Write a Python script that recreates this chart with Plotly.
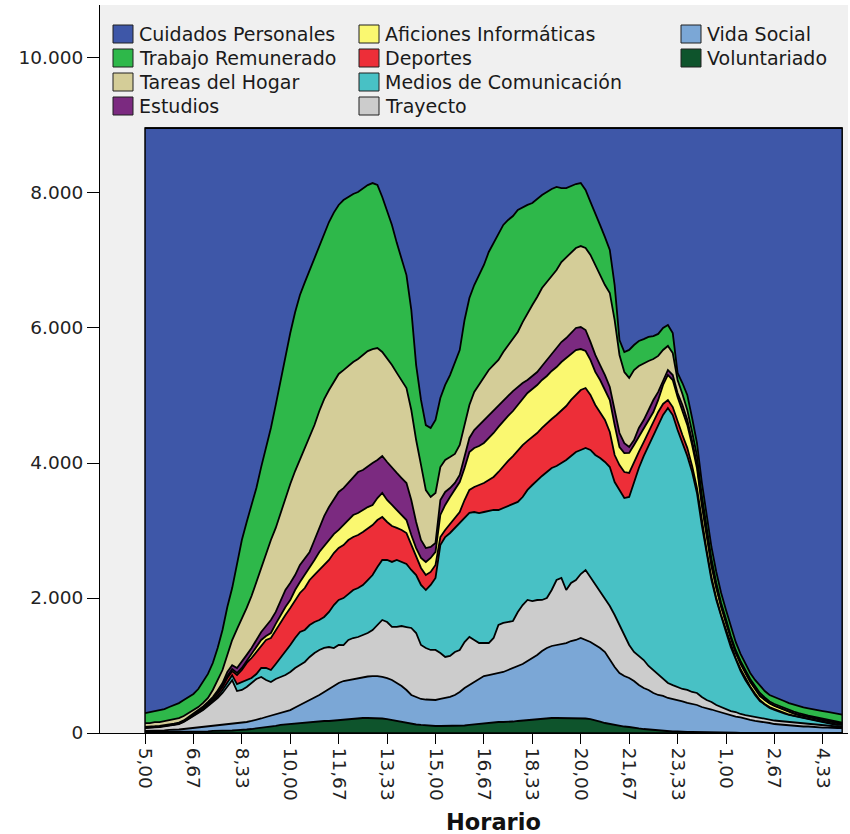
import plotly.graph_objects as go

# 10-minute time slots starting at 5:00 (145 slots, through 5:00 of the next day)
slots = list(range(145))
tick_slots = [0, 10, 20, 30, 40, 50, 60, 70, 80, 90, 100, 110, 120, 130, 140]
tick_labels = ['5,00', '6,67', '8,33', '10,00', '11,67', '13,33', '15,00', '16,67',
               '18,33', '20,00', '21,67', '23,33', '1,00', '2,67', '4,33']

voluntariado = [15,15,15,15,15,15,15,15,15,15, 15,22,22,22,30,30,30,37,37,44,
    44,52,59,67,74,89,96,104,119,126, 133,141,148,156,163,163,170,178,178,185,
    193,200,207,207,215,222,222,222,222,215, 207,193,178,163,148,133,126,119,111,104,
    104,104,104,104,104,104,111,119,126,133, 148,148,156,163,163,163,170,178,185,193,
    200,207,215,222,222,222,222,222,222,222, 222,215,207,193,170,148,133,119,104,96,
    89,74,67,59,52,44,37,30,30,22, 22,15,15,15,15,7,7,7,7,7,
    7,7,7,0,0,0,0,0,0,0, 0,0,0,0,0,0,0,0,0,0, 0,0,0,0,0]

vida_social = [15,15,15,15,22,30,30,37,44,52, 59,59,67,74,74,81,89,89,96,96,
    104,111,119,126,141,148,163,178,185,200, 207,237,267,296,326,356,393,430,474,511,
    548,570,578,593,600,607,615,622,622,615, 607,593,563,533,489,430,407,385,385,385,
    385,400,415,430,459,504,556,593,630,667, 696,711,719,726,741,770,793,815,837,874,
    911,948,1000,1037,1067,1081,1096,1111,1141,1156, 1185,1163,1141,1111,1089,1052,948,859,785,748,
    726,696,644,607,585,548,526,519,489,481, 467,452,430,415,400,378,363,341,319,296,
    274,259,237,230,207,193,178,170,156,148, 133,126,119,111,111,104,96,96,89,89,
    81,81,74,74,74]

trayecto = [44,44,52,59,59,59,74,81,104,141, 178,215,252,304,356,407,474,570,650,481,
    489,519,563,607,615,548,496,519,526,533, 563,585,593,600,637,667,667,652,622,563,
    563,533,593,607,607,622,644,681,756,844, 830,785,830,889,933,993,948,800,763,741,
    741,681,607,607,637,622,681,711,622,533, 489,474,533,711,726,711,696,800,874,904,
    844,815,756,741,830,963,978,785,859,889, 948,1037,963,889,830,800,800,770,711,607,
    489,430,430,415,356,341,296,252,222,207, 193,185,193,178,178,148,119,111,89,81,
    74,59,67,52,59,59,59,52,52,44, 52,52,52,52,44,44,44,37,37,30,
    30,22,22,15,15]

medios = [6,6,6,6,6,6,6,7,7,7, 9,10,12,15,22,30,44,59,74,104,
    119,104,74,74,133,178,178,222,281,341, 400,444,489,474,474,459,444,459,519,637,
    667,696,681,711,726,741,785,815,859,889, 919,963,993,948,933,859,859,889,859,963,
    1067,1600,1778,1822,1837,1896,1852,1837,1896,1926, 1941,1956,1896,1704,1704,1719,1733,1630,1600,1630,
    1719,1778,1837,1867,1807,1689,1704,1926,1882,1896, 1837,1807,1882,1926,1985,2015,2059,1970,2000,2030,
    2193,2519,2785,3022,3259,3467,3704,3911,4074,4000, 3807,3644,3467,3259,2963,2548,2178,1807,1556,1333,
    1141,948,770,637,519,415,326,252,207,178, 156,133,119,104,96,89,81,74,67,59,
    52,44,37,30,30]

deportes = [4,4,4,4,4,4,4,4,6,7, 9,12,15,18,22,37,44,59,59,133,
    178,252,296,326,341,415,474,504,533,548, 548,563,578,622,667,696,741,770,770,770,
    770,785,800,785,785,785,770,741,696,637, 563,533,474,474,459,370,281,252,222,193,
    193,119,104,133,148,148,252,341,370,415, 430,459,489,563,622,667,711,770,770,726,
    711,696,711,726,726,756,785,800,830,844, 889,889,815,741,681,622,519,400,370,385,
    356,296,237,207,207,207,193,163,119,119, 119,119,119,89,74,59,44,44,30,30,
    30,30,30,30,30,22,22,15,15,15, 15,15,7,7,7,7,7,7,7,7,
    7,7,7,7,7]

aficiones = [4,4,4,4,4,4,4,4,4,6, 6,7,9,9,10,15,22,30,30,30,
    30,30,44,59,74,59,74,89,104,119, 119,148,163,193,193,222,267,281,296,281,
    267,296,296,326,326,326,311,296,326,356, 326,311,267,222,193,148,119,148,193,207,
    193,326,370,400,415,444,474,563,578,578, 593,622,652,667,667,667,667,667,696,711,
    711,711,711,696,711,711,711,711,681,667, 607,548,519,489,474,444,474,444,267,281,
    296,252,222,207,178,148,178,281,370,400, 370,370,341,311,296,237,193,163,148,119,
    104,89,74,74,74,67,67,59,59,52, 44,44,44,37,30,22,22,22,22,22,
    22,22,22,22,15]

estudios = [4,4,4,4,4,4,6,6,7,9, 12,15,16,18,19,30,37,59,59,74,
    89,89,104,119,119,148,193,178,222,252, 252,222,252,252,222,296,356,444,489,504,
    563,548,548,548,607,593,607,622,563,548, 563,548,548,548,548,519,385,267,207,163,
    133,222,193,133,104,104,193,207,267,311, 326,341,341,326,311,296,296,267,222,193,
    193,193,207,237,252,281,296,296,311,326, 326,311,267,252,222,222,193,222,207,148,
    89,74,133,119,148,178,119,74,74,74, 59,74,74,59,59,44,30,30,15,15,
    15,15,15,15,15,15,15,15,15,7, 7,7,7,7,7,7,7,7,7,7,
    7,7,7,7,7]

tareas = [55,55,62,55,62,70,68,67,64,59, 53,44,52,59,104,156,193,252,372,578,
    637,696,770,859,963,1081,1185,1244,1289,1363, 1467,1541,1556,1630,1704,1704,1733,1733,1733,1748,
    1748,1748,1733,1719,1674,1704,1704,1689,1659,1541, 1541,1526,1482,1452,1407,1333,1215,1111,859,741,
    741,489,474,459,430,444,444,489,563,593, 637,667,667,667,711,756,785,815,904,993,
    1052,1111,1156,1156,1156,1156,1185,1200,1200,1185, 1200,1215,1289,1333,1333,1333,1393,1333,1156,1052,
    1022,1037,919,844,726,607,533,444,356,326, 193,163,148,133,119,104,89,74,59,44,
    44,30,30,30,30,30,30,30,22,22, 22,22,22,22,22,22,15,15,15,15,
    15,15,15,7,7]

trabajo = [148,163,163,178,178,193,207,222,237,237, 237,267,311,356,400,474,593,711,770,948,
    1170,1274,1363,1393,1482,1556,1659,1822,1970,2119, 2237,2352,2444,2452,2474,2474,2430,2444,2489,2510,
    2504,2519,2504,2489,2474,2459,2459,2459,2415,2296, 2193,2074,1926,1778,1674,1482,1111,963,963,1022,
    1081,1022,1111,1215,1348,1407,1556,1585,1585,1630, 1674,1748,1807,1882,1882,1852,1807,1807,1704,1600,
    1511,1452,1378,1333,1289,1230,1096,1022,978,948, 933,859,785,770,741,711,637,519,222,296,
    415,370,370,356,356,341,326,326,311,296, 104,163,222,207,193,193,207,178,163,148,
    133,133,119,104,89,89,89,104,96,96, 100,100,104,104,104,104,107,107,111,111,
    111,115,115,115,118]

cuidados = [8667,8652,8637,8622,8607,8578,8548,8519,8474,8430, 8385,8311,8207,8089,7926,7704,7437,7096,6815,6474,
    6104,5837,5570,5333,5022,4741,4444,4104,3733,3363, 3037,2730,2474,2288,2104,1926,1763,1572,1393,1254,
    1141,1067,1022,978,948,904,846,815,844,1022, 1215,1437,1704,1956,2178,2696,3511,4030,4400,4444,
    4326,4000,3807,3659,3481,3289,2844,2519,2326,2178, 2030,1837,1704,1556,1437,1363,1304,1215,1170,1141,
    1111,1052,993,948,904,874,889,889,859,830, 815,919,1096,1259,1437,1615,1807,2326,3141,3319,
    3289,3215,3156,3126,3096,3081,3052,2963,2919,3037, 3630,3778,3956,4296,4667,5244,5733,6207,6578,6889,
    7141,7393,7615,7793,7941,8074,8178,8267,8341,8400, 8433,8462,8489,8518,8541,8562,8582,8596,8607,8622,
    8637,8648,8662,8685,8689]

# stacking order: bottom to top
series = [
    ('Voluntariado', voluntariado, '#0E542C'),
    ('Vida Social', vida_social, '#7BA7D6'),
    ('Trayecto', trayecto, '#CCCCCC'),
    ('Medios de Comunicación', medios, '#48C1C5'),
    ('Deportes', deportes, '#ED2E38'),
    ('Aficiones Informáticas', aficiones, '#FAF870'),
    ('Estudios', estudios, '#7B2A80'),
    ('Tareas del Hogar', tareas, '#D4CD98'),
    ('Trabajo Remunerado', trabajo, '#2EB84A'),
    ('Cuidados Personales', cuidados, '#3E57A8'),
]
colors = {n: c for n, _, c in series}

fig = go.Figure()
for name, vals, color in series:
    fig.add_trace(go.Scatter(
        x=slots, y=vals, name=name, stackgroup='one', mode='lines',
        line=dict(color='black', width=1.8), fillcolor=color, showlegend=False))

FONT = 'DejaVu Sans'
L, R, T, B = 100, 2, 5, 101
W, H = 850, 834
pw, ph = W - L - R, H - T - B

def px_x(px):
    return (px - L) / pw

def px_y(py):
    return (H - B - py) / ph

legend_columns = [
    (113, ['Cuidados Personales', 'Trabajo Remunerado', 'Tareas del Hogar', 'Estudios']),
    (359, ['Aficiones Informáticas', 'Deportes', 'Medios de Comunicación', 'Trayecto']),
    (681, ['Vida Social', 'Voluntariado']),
]
row_centers = [34, 58, 82, 106]
shapes, annotations = [], []
for x0, names in legend_columns:
    for name, cy in zip(names, row_centers):
        shapes.append(dict(type='rect', xref='paper', yref='paper',
                           x0=px_x(x0), x1=px_x(x0 + 20), y0=px_y(cy + 9), y1=px_y(cy - 9),
                           fillcolor=colors[name], line=dict(color='#202020', width=1)))
        annotations.append(dict(xref='paper', yref='paper', x=px_x(x0 + 24), y=px_y(cy),
                                text=name, showarrow=False, xanchor='left', yanchor='middle',
                                font=dict(family=FONT, size=19, color='#1a1a1a')))

# outline of the whole stacked block (left/right edges)
total_first = sum(vals[0] for _, vals, _ in series)
shapes.append(dict(type='rect', xref='x', yref='y', x0=slots[0], x1=slots[-1],
                   y0=0, y1=total_first, line=dict(color='black', width=1.5),
                   fillcolor='rgba(0,0,0,0)', layer='above'))

annotations.append(dict(xref='paper', yref='paper', x=px_x(493), y=px_y(822),
                        text='<b>Horario</b>', showarrow=False, xanchor='center', yanchor='middle',
                        font=dict(family=FONT, size=22.5, color='#111111')))

fig.update_layout(
    width=W, height=H,
    margin=dict(l=L, r=R, t=T, b=B),
    paper_bgcolor='white', plot_bgcolor='#F0F0F0',
    showlegend=False, separators=',.',
    font=dict(family=FONT, size=18.5, color='#222222'),
    shapes=shapes, annotations=annotations,
)
fig.update_xaxes(range=[-9.3, 145.2], tickmode='array', tickvals=tick_slots, ticktext=tick_labels,
                 tickangle=90, ticks='outside', ticklen=10, tickcolor='black', tickwidth=1,
                 showline=True, linecolor='black', linewidth=1, showgrid=False, zeroline=False,
                 tickfont=dict(family=FONT, size=18.5, color='#222222'))
fig.update_yaxes(range=[0, 10785], tickmode='array', tickvals=[0, 2000, 4000, 6000, 8000, 10000],
                 tickformat=',d', ticks='outside', ticklen=12, tickcolor='black', tickwidth=1,
                 showline=True, linecolor='black', linewidth=1, showgrid=False, zeroline=False,
                 tickfont=dict(family=FONT, size=18.5, color='#222222'))

fig.write_html('out.html', config={'displayModeBar': False},
               post_script="document.body.style.margin='0px';document.body.style.overflow='hidden';")
